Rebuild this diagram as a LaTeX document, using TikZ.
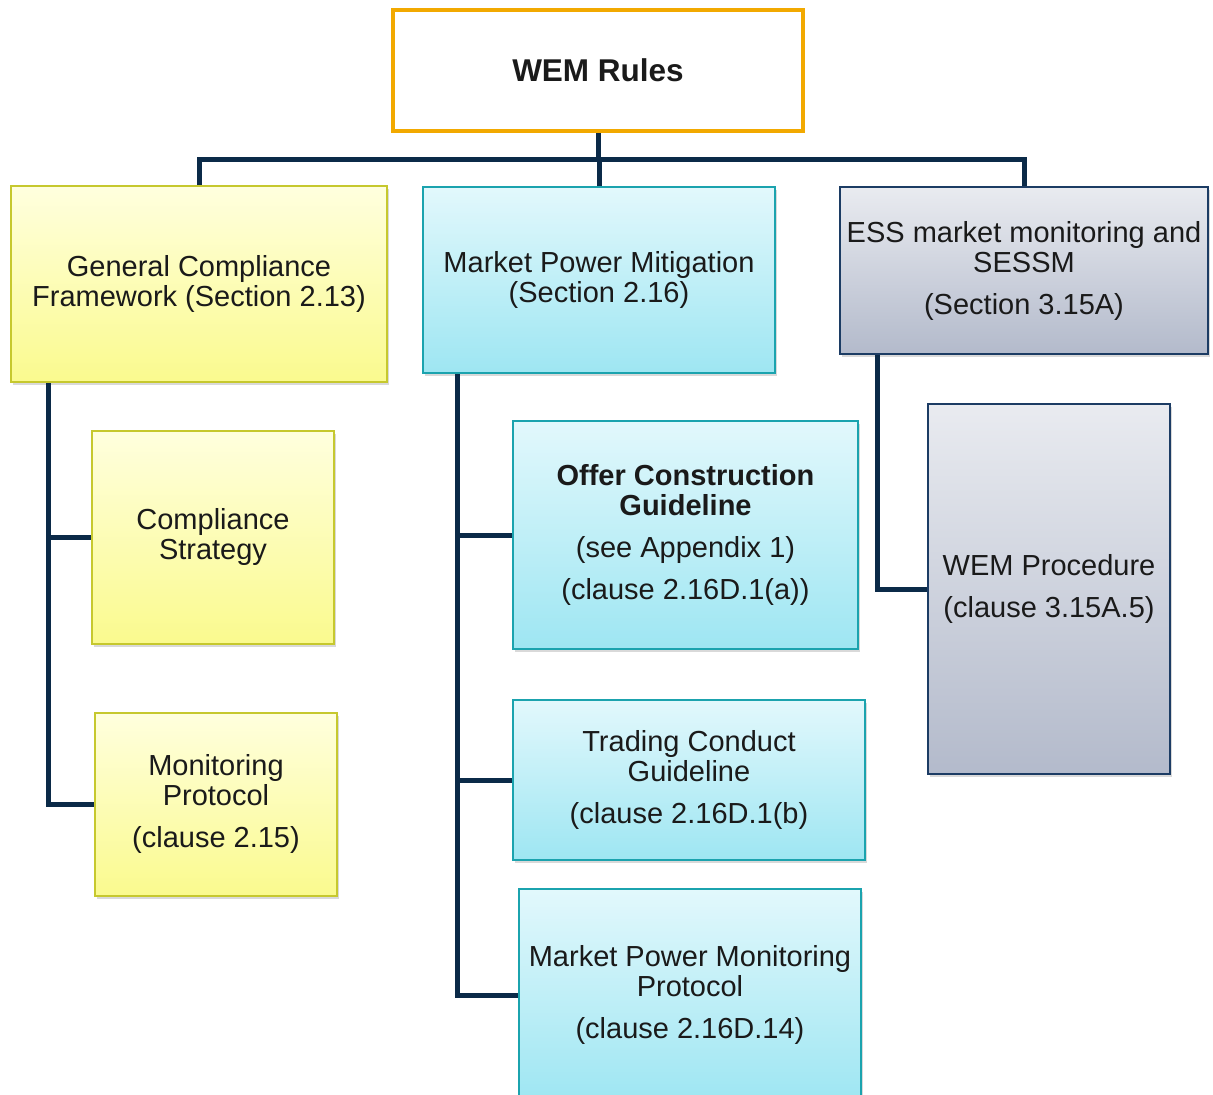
\documentclass[tikz,border=0pt]{standalone}
\usepackage{fontspec}
\setmainfont{Liberation Sans}
\usetikzlibrary{shadows}

\definecolor{navy}{HTML}{0B2A48}
\definecolor{orangeline}{HTML}{F2A900}
\definecolor{yelTop}{HTML}{FFFFDE}
\definecolor{yelBot}{HTML}{FAFA8E}
\definecolor{yelLine}{HTML}{C6C82E}
\definecolor{cyTop}{HTML}{E2F8FC}
\definecolor{cyBot}{HTML}{9EE6F2}
\definecolor{cyLine}{HTML}{1BA3AE}
\definecolor{grTop}{HTML}{E9EBF0}
\definecolor{grBot}{HTML}{B3BACB}
\definecolor{grLine}{HTML}{1C3C64}
\definecolor{txt}{HTML}{1A1A1A}

\tikzset{
  box/.style={rectangle, align=center, text=txt, inner sep=0pt,
    font=\fontsize{29}{30}\selectfont,
    drop shadow={shadow xshift=2pt, shadow yshift=-3pt, opacity=0.25, fill=black!60}},
  yelbox/.style={box, draw=yelLine, line width=2pt, top color=yelTop, bottom color=yelBot},
  cybox/.style={box, draw=cyLine, line width=2pt, top color=cyTop, bottom color=cyBot},
  grbox/.style={box, draw=grLine, line width=2pt, top color=grTop, bottom color=grBot},
  rootbox/.style={rectangle, draw=orangeline, line width=4pt, fill=white, text=txt,
    font=\fontsize{31.5}{32}\selectfont\bfseries},
  conn/.style={draw=navy, line width=5pt},
}

\begin{document}
\begin{tikzpicture}[x=1pt, y=-1pt]
\useasboundingbox (0,0) rectangle (1213,1095);

% junction of the top bus under the root box
\coordinate (hub) at (598,159);

% root
\node[rootbox, minimum width=410pt, minimum height=121pt] (wem) at (598,70.5) {WEM Rules};

% first level
\node[yelbox, minimum width=376pt, minimum height=196pt] (gcf) at (199,284)
  {General Compliance\\Framework (Section 2.13)};
\node[cybox, minimum width=352pt, minimum height=186pt] (mpm) at (599,280)
  {Market Power Mitigation\\(Section 2.16)};
\node[grbox, minimum width=368pt, minimum height=167pt] (ess) at (1024,270.5)
  {ESS market monitoring and\\SESSM\\[12pt](Section 3.15A)};

% second level
\node[yelbox, minimum width=242pt, minimum height=213pt] (cs) at (213,537)
  {Compliance\\Strategy};
\node[yelbox, minimum width=242pt, minimum height=183pt] (mp) at (216,804)
  {Monitoring\\Protocol\\[12pt](clause 2.15)};

\node[cybox, minimum width=345pt, minimum height=228pt] (ocg) at (685.5,535)
  {\textbf{Offer Construction}\\\textbf{Guideline}\\[12pt](see Appendix 1)\\[12pt](clause 2.16D.1(a))};
\node[cybox, minimum width=352pt, minimum height=160pt] (tcg) at (689,780)
  {Trading Conduct\\Guideline\\[12pt](clause 2.16D.1(b)};
\node[cybox, minimum width=342pt, minimum height=212pt] (mpmp) at (690,995)
  {Market Power Monitoring\\Protocol\\[12pt](clause 2.16D.14)};

\node[grbox, minimum width=242pt, minimum height=370pt] (wp) at (1049,589)
  {WEM Procedure\\[12pt](clause 3.15A.5)};

% top bus
\draw[conn] (wem.south) -- (hub);
\draw[conn] (gcf.north) |- (hub) -| (ess.north);
\draw[conn] (mpm.north) -- (mpm.north |- hub);

% branch trunks down the left side of each column
\draw[conn] ([xshift=38pt]gcf.south west) |- (cs.west);
\draw[conn] ([xshift=38pt]gcf.south west) |- (mp.west);

\draw[conn] ([xshift=35pt]mpm.south west) |- (ocg.west);
\draw[conn] ([xshift=35pt]mpm.south west) |- (tcg.west);
\draw[conn] ([xshift=35pt]mpm.south west) |- (mpmp.west);

\draw[conn] ([xshift=38pt]ess.south west) |- (wp.west);
\end{tikzpicture}
\end{document}
